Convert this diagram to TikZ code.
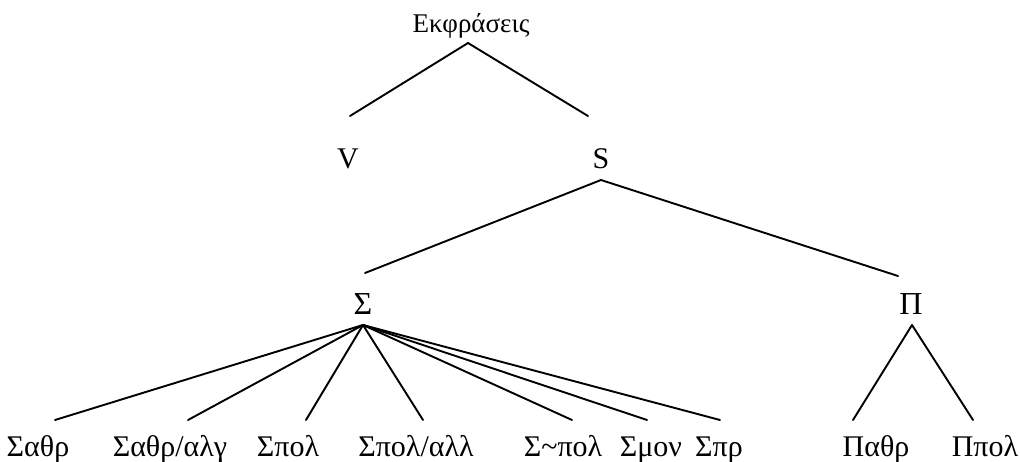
\documentclass[tikz,border=0pt]{standalone}
\usepackage{fontspec}
\setmainfont{Liberation Serif}
\begin{document}
\begin{tikzpicture}[x=1pt,y=-1pt,
  lbl/.style={anchor=base,inner sep=0pt,font=\fontsize{30}{34}\selectfont},
  biglbl/.style={anchor=base,inner sep=0pt,font=\fontsize{32}{36}\selectfont},
  toplbl/.style={anchor=base,inner sep=0pt,font=\fontsize{27}{30}\selectfont},
  edge/.style={line width=1.9pt,line cap=round}]
\useasboundingbox (0,0) rectangle (1020,462);
% nodes
\node[toplbl] (root) at (471,33) {Εκφράσεις};
\node[lbl] (V) at (348,169) {V};
\node[lbl] (S) at (601,169) {S};
\node[biglbl] (Sig) at (363,315) {Σ};
\node[biglbl] (Pi) at (911,315) {Π};
\node[lbl] (c1) at (38,456) {Σαθρ};
\node[lbl] (c2) at (170,456) {Σαθρ/αλγ};
\node[lbl] (c3) at (288,456) {Σπολ};
\node[lbl] (c4) at (416,456) {Σπολ/αλλ};
\node[lbl] (c5) at (563,456) {Σ\textasciitilde πολ};
\node[lbl] (c6) at (651,456) {Σμον};
\node[lbl] (c7) at (719,456) {Σπρ};
\node[lbl] (p1) at (876,456) {Παθρ};
\node[lbl] (p2) at (985,456) {Ππολ};
% connectors
\draw[edge] ([xshift=-3pt,yshift=-10pt]root.base) -- ([xshift=2pt,yshift=53pt]V.base);
\draw[edge] ([xshift=-3pt,yshift=-10pt]root.base) -- ([xshift=-13pt,yshift=53pt]S.base);
\draw[edge] ([yshift=-11pt]S.base) -- ([xshift=2pt,yshift=42pt]Sig.base);
\draw[edge] ([yshift=-11pt]S.base) -- ([xshift=-13pt,yshift=39pt]Pi.base);
\foreach \c/\dx in {c1/17,c2/18,c3/18,c4/7,c5/9,c6/-4,c7/1}{
  \draw[edge] ([yshift=-10pt]Sig.base) -- ([xshift=\dx pt,yshift=36pt]\c.base);
}
\draw[edge] ([xshift=1pt,yshift=-10pt]Pi.base) -- ([xshift=-23pt,yshift=36pt]p1.base);
\draw[edge] ([xshift=1pt,yshift=-10pt]Pi.base) -- ([xshift=-12pt,yshift=36pt]p2.base);
\end{tikzpicture}
\end{document}
